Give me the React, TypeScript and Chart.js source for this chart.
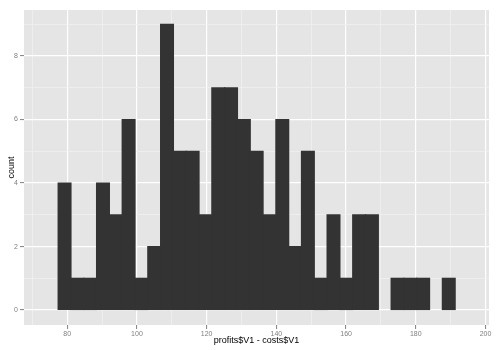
import React, { useEffect, useRef } from 'react';
import { Chart, registerables } from 'chart.js';
Chart.register(...registerables);

// Histogram of profits$V1 - costs$V1
const binStart = 77.4;
const binWidth = 3.674;
const counts = [4, 1, 1, 4, 3, 6, 1, 2, 9, 5, 5, 3, 7, 7, 6, 5, 3, 6, 2, 5, 1, 3, 1, 3, 3, 0, 1, 1, 1, 0, 1];

const xMajorTicks = [80, 100, 120, 140, 160, 180, 200];
const xMinorTicks = [70, 90, 110, 130, 150, 170, 190];
const yMajorTicks = [0, 2, 4, 6, 8];
const yMinorTicks = [1, 3, 5, 7, 9];

const xTitle = 'profits$V1 - costs$V1';
const yTitle = 'count';

const PANEL_BG = '#E5E5E5';
const FONT = '"Liberation Sans", Arial, sans-serif';

export default function App() {
  const ref = useRef<HTMLCanvasElement | null>(null);

  useEffect(() => {
    if (!ref.current) return;
    const data = counts.map((c, i) => ({ x: binStart + binWidth * (i + 0.5), y: c === 0 ? null : c }));
    const xTicksAll = [...xMajorTicks, ...xMinorTicks].sort((a, b) => a - b);
    const yTicksAll = [...yMajorTicks, ...yMinorTicks].sort((a, b) => a - b);

    const bgPlugin = {
      id: 'panelBg',
      beforeDraw(chart: any) {
        const { ctx, chartArea } = chart;
        ctx.save();
        ctx.fillStyle = PANEL_BG;
        ctx.fillRect(chartArea.left, chartArea.top, chartArea.right - chartArea.left, chartArea.bottom - chartArea.top);
        ctx.restore();
      },
    };

    const chart = new Chart(ref.current, {
      type: 'bar',
      data: {
        datasets: [
          {
            data: data as any,
            backgroundColor: '#333333',
            borderWidth: 0,
            inflateAmount: 0.6,
            barPercentage: 1,
            categoryPercentage: 1,
          },
        ],
      },
      plugins: [bgPlugin],
      options: {
        animation: false,
        responsive: false,
        layout: { padding: { top: 10, right: 11, left: 0, bottom: 0 } },
        plugins: { legend: { display: false }, tooltip: { enabled: false } },
        scales: {
          x: {
            type: 'linear',
            min: 67.6,
            max: 201,
            offset: false,
            border: { display: false },
            afterBuildTicks: (scale: any) => {
              scale.ticks = xTicksAll.map((v) => ({ value: v }));
            },
            afterFit: (scale: any) => {
              scale.height = 25;
            },
            grid: {
              offset: false,
              color: (ctx: any) => (xMajorTicks.includes(ctx.tick?.value) ? '#FFFFFF' : '#F0F0F0'),
              lineWidth: (ctx: any) => (xMajorTicks.includes(ctx.tick?.value) ? 1.2 : 0.8),
              tickColor: (ctx: any) => (xMajorTicks.includes(ctx.tick?.value) ? '#7F7F7F' : 'rgba(0,0,0,0)'),
              tickLength: 4,
              tickWidth: 1,
              drawTicks: true,
            },
            ticks: {
              autoSkip: false,
              maxRotation: 0,
              padding: 1,
              color: '#7F7F7F',
              font: { family: FONT, size: 7 },
              callback: (v: any) => (xMajorTicks.includes(Number(v)) ? String(v) : ''),
            },
            title: {
              display: true,
              text: xTitle,
              color: '#000000',
              font: { family: FONT, size: 9 },
              padding: { top: 0, bottom: 4 },
            },
          },
          y: {
            type: 'linear',
            min: -0.47,
            max: 9.45,
            border: { display: false },
            afterBuildTicks: (scale: any) => {
              scale.ticks = yTicksAll.map((v) => ({ value: v }));
            },
            afterFit: (scale: any) => {
              scale.width = 24;
            },
            grid: {
              offset: false,
              color: (ctx: any) => (yMajorTicks.includes(ctx.tick?.value) ? '#FFFFFF' : '#F0F0F0'),
              lineWidth: (ctx: any) => (yMajorTicks.includes(ctx.tick?.value) ? 1.2 : 0.8),
              tickColor: (ctx: any) => (yMajorTicks.includes(ctx.tick?.value) ? '#7F7F7F' : 'rgba(0,0,0,0)'),
              tickLength: 4,
              tickWidth: 1,
              drawTicks: true,
            },
            ticks: {
              autoSkip: false,
              padding: 2,
              color: '#7F7F7F',
              font: { family: FONT, size: 7 },
              callback: (v: any) => (yMajorTicks.includes(Number(v)) ? String(v) : ''),
            },
            title: {
              display: true,
              text: yTitle,
              color: '#000000',
              font: { family: FONT, size: 9 },
              padding: { top: 6, bottom: 0 },
            },
          },
        },
      },
    } as any);
    return () => chart.destroy();
  }, []);

  return (
    <div style={{ position: 'fixed', left: 0, top: 0, width: 500, height: 350, background: '#FFFFFF' }}>
      <canvas ref={ref} width={500} height={350} style={{ display: 'block' }} />
    </div>
  );
}
